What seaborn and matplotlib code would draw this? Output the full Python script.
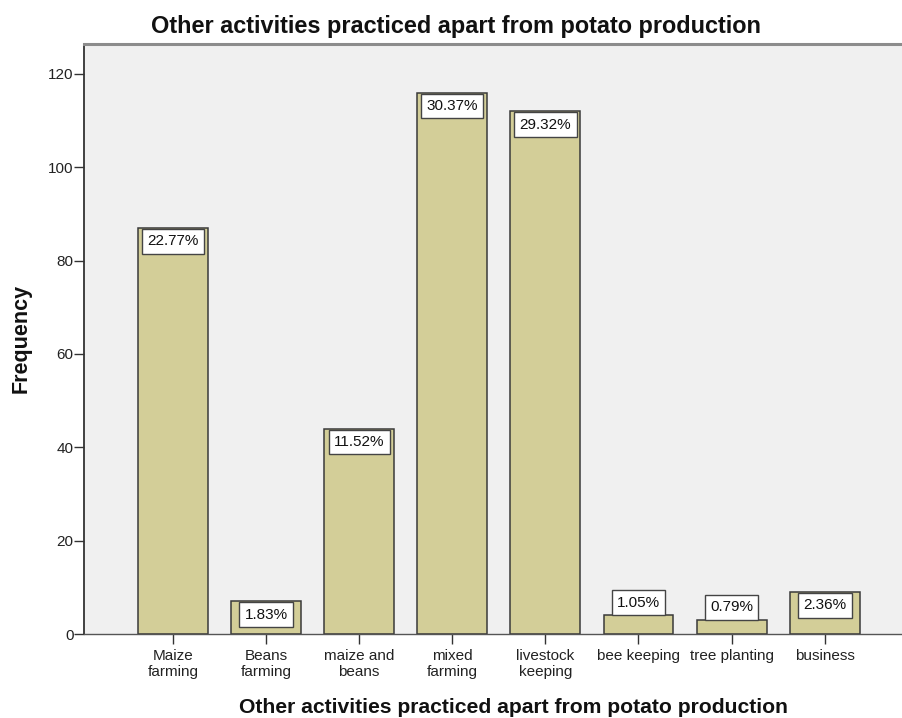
import matplotlib
matplotlib.use("Agg")
import matplotlib.pyplot as plt
import seaborn as sns
import pandas as pd

# Survey counts: other activities practiced besides potato production
activities = [
    "Maize\nfarming",
    "Beans\nfarming",
    "maize and\nbeans",
    "mixed\nfarming",
    "livestock\nkeeping",
    "bee keeping",
    "tree planting",
    "business",
]
frequencies = [87, 7, 44, 116, 112, 4, 3, 9]
y_ticks = [0, 20, 40, 60, 80, 100, 120]

title_text = "Other activities practiced apart from potato production"
x_label = "Other activities practiced apart from potato production"
y_label = "Frequency"

total = sum(frequencies)
percents = [100.0 * f / total for f in frequencies]

df = pd.DataFrame({"activity": activities, "freq": frequencies})

sns.set_theme(style="white")
plt.rcParams["font.family"] = ["Liberation Sans", "DejaVu Sans"]

BAR = "#d3ce98"
EDGE = "#3a3a3a"
PANEL = "#f0f0f0"

fig = plt.figure(figsize=(9.03, 7.18), dpi=100)
W, H = 903, 718
ax = fig.add_axes([84.5 / W, 84 / H, (906 - 84.5) / W, (634 - 43.5) / H])
ax.set_facecolor(PANEL)

sns.barplot(
    data=df, x="activity", y="freq", color=BAR, saturation=1,
    width=0.75, edgecolor=EDGE, linewidth=1.1, errorbar=None, ax=ax,
)

ax.set_xlim(-0.95, 7.873)
ax.set_ylim(0, 126.5)
ax.set_yticks(y_ticks)
ax.set_yticklabels([str(t) for t in y_ticks])
ax.set_xlabel("")
ax.set_ylabel("")

ax.tick_params(axis="y", which="major", direction="out", length=7, width=1,
               color="#333333", pad=1, labelsize=11, labelcolor="#222222", left=True)
ax.tick_params(axis="x", which="major", direction="out", length=7, width=1,
               color="#333333", pad=4, labelsize=11, labelcolor="#222222", bottom=True)
for lbl in ax.get_xticklabels():
    lbl.set_linespacing(1.15)

for side, color, lw in [("left", "#333333", 1.3), ("top", "#8c8c8c", 2.2),
                        ("bottom", "#555555", 1.0), ("right", "#8c8c8c", 1.0)]:
    ax.spines[side].set_visible(True)
    ax.spines[side].set_color(color)
    ax.spines[side].set_linewidth(lw)

# Percentage labels: inside the top of the bar when it fits, otherwise on top
label_fs = 11
box_pad = 0.35
fit_height = 5.4  # frequency units needed to hold a label box
for i, (f, p) in enumerate(zip(frequencies, percents)):
    inside = f >= fit_height
    off = -(box_pad * label_fs + 0.8) if inside else (box_pad * label_fs + 0.2)
    ax.annotate(
        f"{p:.2f}%", xy=(i, f), xytext=(0, off), textcoords="offset points",
        ha="center", va="top" if inside else "bottom", fontsize=label_fs,
        color="#111111",
        bbox=dict(boxstyle=f"square,pad={box_pad}", facecolor="white",
                  edgecolor="#444444", linewidth=1.0),
    )

fig.text(456 / W, (H - 33.5) / H, title_text, ha="center", va="baseline",
         fontsize=16.9, fontweight="bold", color="#111111")
fig.text(513 / W, (H - 713) / H, x_label, ha="center", va="baseline",
         fontsize=15.2, fontweight="bold", color="#111111")
fig.text(21 / W, (H - 338) / H, y_label, ha="center", va="center", rotation=90,
         fontsize=15.5, fontweight="bold", color="#111111")

fig.savefig("out.png", dpi=100, facecolor="white")
